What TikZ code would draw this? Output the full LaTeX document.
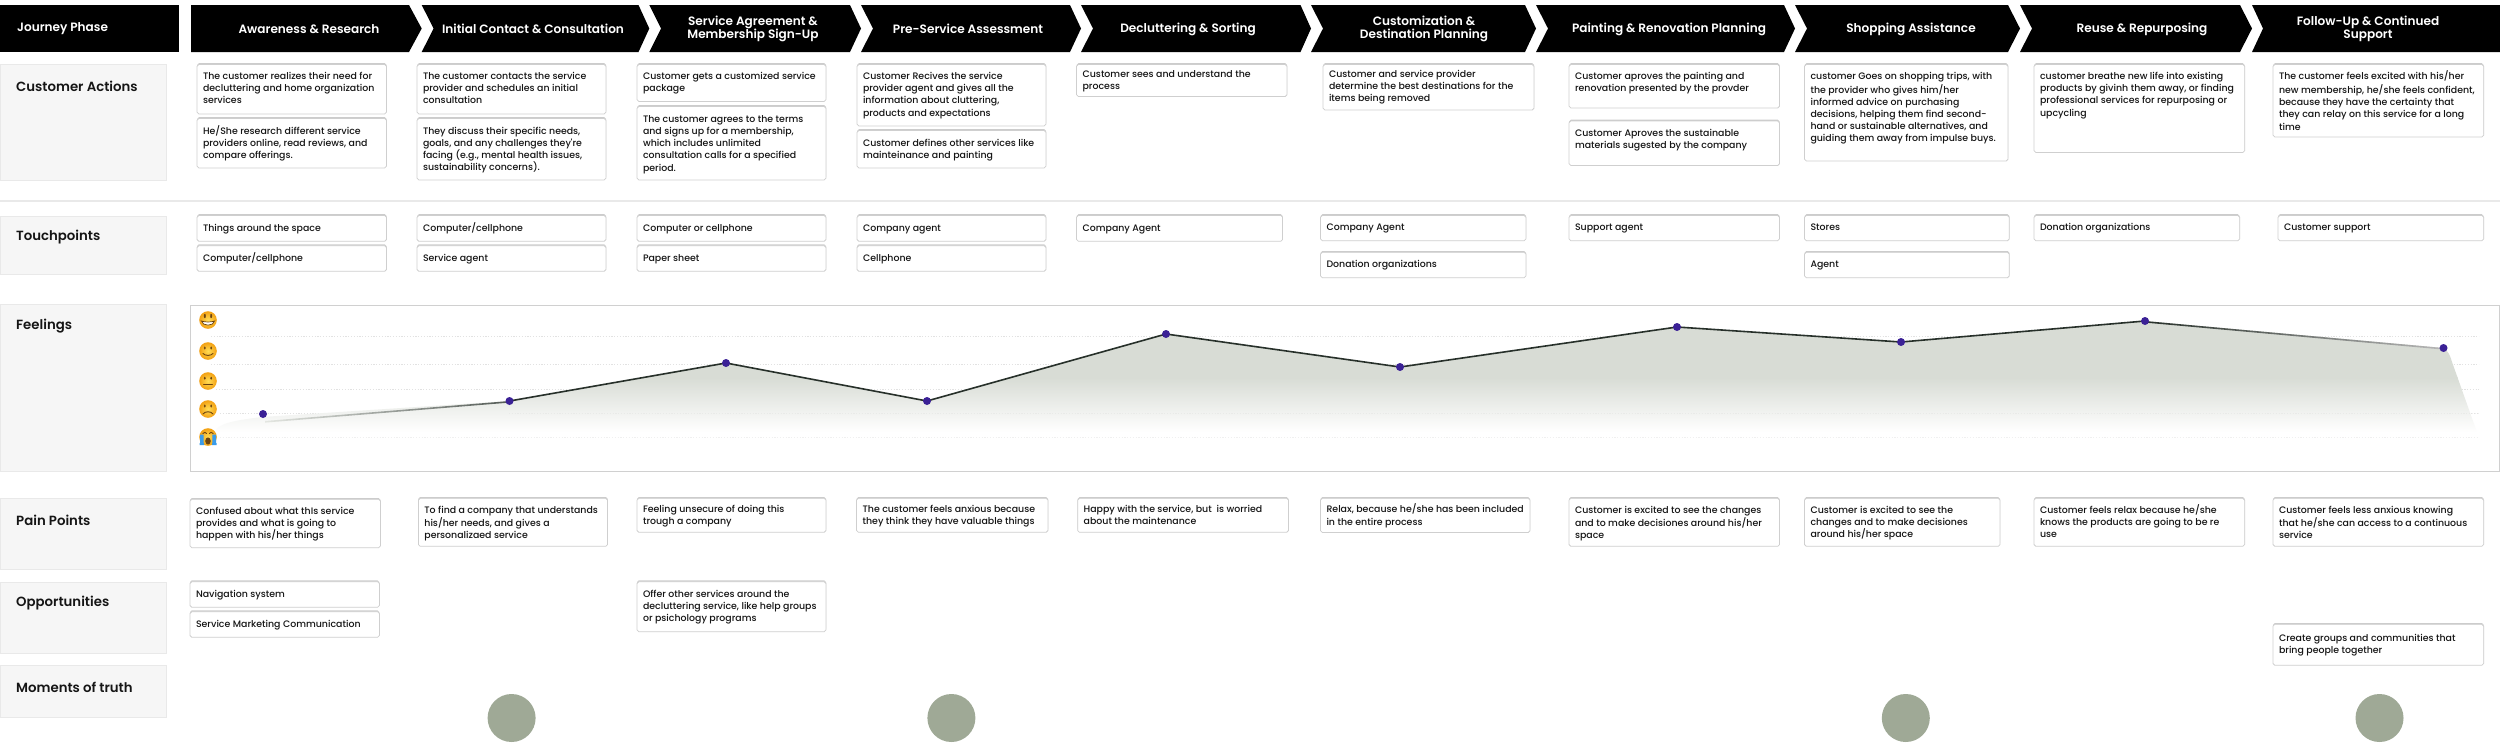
\documentclass[tikz,border=0pt]{standalone}
\usepackage{fontspec}
\setmainfont{Poppins}
\newfontfamily\bodyf{Poppins Medium}
\newfontfamily\headf{Poppins SemiBold}
\usetikzlibrary{shadows,calc}
\definecolor{ink}{HTML}{151515}
\definecolor{cardline}{HTML}{CFCFCF}
\definecolor{chartline}{HTML}{D0D0D0}
\definecolor{sidefill}{HTML}{F6F6F6}
\definecolor{sideline}{HTML}{E9E9E9}
\definecolor{grid}{HTML}{E2E2E2}
\definecolor{dotc}{HTML}{3B2196}
\definecolor{linec}{HTML}{27302A}
\definecolor{area}{HTML}{D8DCD5}
\definecolor{moment}{HTML}{9FA996}
\definecolor{faceA}{HTML}{FFDD55}
\definecolor{faceB}{HTML}{F3A012}
\definecolor{facel}{HTML}{6B4310}
\definecolor{tear}{HTML}{3B9BE8}
\tikzset{
  cardbox/.style={draw=cardline,line width=.75pt,fill=white,rounded corners=1.8pt,inner sep=0pt,outer sep=0pt,anchor=north west,
    general shadow={shadow xshift=0pt,shadow yshift=1.3pt,fill=black,opacity=.2}},
  cardtext/.style={anchor=north west,inner sep=0pt,outer sep=0pt,align=left,text=ink,font=\bodyf\fontsize{9.4}{12.2}\selectfont},
  sidebox/.style={draw=sideline,line width=.9pt,fill=sidefill,inner sep=0pt,outer sep=0pt,anchor=north west},
  sidetext/.style={anchor=west,inner sep=0pt,text=ink,font=\headf\fontsize{13.3}{15}\selectfont},
  phase/.style={fill=black},
  phasetext/.style={text=white,align=center,inner sep=0pt,font=\headf\fontsize{12.1}{13.4}\selectfont},
  griddot/.style={grid,line width=.9pt,dash pattern=on 1.2pt off 1.6pt},
  ptdot/.style={circle,fill=dotc,inner sep=0pt,minimum size=8pt},
  momentdot/.style={circle,fill=moment,inner sep=0pt,minimum size=48pt},
  feel/.style={linec,line width=1.6pt,line join=round},
  facefeat/.style={facel,line width=.9pt,line cap=round},
}
% name x1 y1 x2 y2 first-line-centre text
\newcommand{\cardn}[7]{%
  \node[cardbox,minimum width={(#4-#2)*1pt},minimum height={(#5-#3)*1pt}] (#1) at (#2,#3) {};
  \node[cardtext] (#1t) at ($(#2,#6)+(6,-6)$) {\strut #7};
}
\newcommand{\sidebox}[6]{%
  \node[sidebox,minimum width=166pt,minimum height={(#3-#2)*1pt}] (#1) at (0,#2) {};
  \node[sidetext] (#1t) at (16,#4) {#5};
}
\newcommand{\faceball}[2]{%
  \shade[inner color=faceA,outer color=faceB] (#1,#2) circle (8.8);
}
\begin{document}
\begin{tikzpicture}[x=1pt,y=-1pt]
\useasboundingbox (0,0) rectangle (2500,742);
\fill[white] (0,0) rectangle (2500,742);

% header
\fill[phase] (0,5) rectangle (179,52);
\node[phasetext,anchor=west] (jp) at (17,29) {Journey Phase};
\fill[phase] (191,5) -- (409,5) -- (421.7,28.5) -- (409,52) -- (191,52) -- cycle;
\fill[phase] (421.7,5) -- (638.5,5) -- (649.3,28.5) -- (638.5,52) -- (421.7,52) -- (433.6,28.5) -- cycle;
\fill[phase] (649.3,5) -- (850,5) -- (861,28.5) -- (850,52) -- (649.3,52) -- (661,28.5) -- cycle;
\fill[phase] (861,5) -- (1070,5) -- (1081,28.5) -- (1070,52) -- (861,52) -- (873,28.5) -- cycle;
\fill[phase] (1081,5) -- (1300.5,5) -- (1311,28.5) -- (1300.5,52) -- (1081,52) -- (1093,28.5) -- cycle;
\fill[phase] (1311,5) -- (1525,5) -- (1536,28.5) -- (1525,52) -- (1311,52) -- (1323,28.5) -- cycle;
\fill[phase] (1536,5) -- (1784,5) -- (1795,28.5) -- (1784,52) -- (1536,52) -- (1548,28.5) -- cycle;
\fill[phase] (1795,5) -- (2008,5) -- (2020,28.5) -- (2008,52) -- (1795,52) -- (1807,28.5) -- cycle;
\fill[phase] (2020,5) -- (2240,5) -- (2252,28.5) -- (2240,52) -- (2020,52) -- (2032,28.5) -- cycle;
\fill[phase] (2252,5) -- (2500,5) -- (2500,52) -- (2252,52) -- (2263,28.5) -- cycle;
\node[phasetext] (ph1) at (309,29) {Awareness \& Research};
\node[phasetext] (ph2) at (533,29) {Initial Contact \& Consultation};
\node[phasetext] (ph3) at (753,29) {Service Agreement \&\\Membership Sign-Up};
\node[phasetext] (ph4) at (968,29) {Pre-Service Assessment};
\node[phasetext] (ph5) at (1188,29) {Decluttering \& Sorting};
\node[phasetext] (ph6) at (1424,29) {Customization \&\\Destination Planning};
\node[phasetext] (ph7) at (1669,29) {Painting \& Renovation Planning};
\node[phasetext] (ph8) at (1911,29) {Shopping Assistance};
\node[phasetext] (ph9) at (2142,29) {Reuse \& Repurposing};
\node[phasetext] (ph10) at (2368,29) {Follow-Up \& Continued\\Support};

% side labels
\sidebox{sa}{64}{180}{86}{Customer Actions}{}
\sidebox{sb}{216}{274}{237}{Touchpoints}{}
\sidebox{sc}{304.5}{471}{326}{Feelings}{}
\sidebox{sd}{498}{569}{520}{Pain Points}{}
\sidebox{se}{582}{653}{603}{Opportunities}{}
\sidebox{sf}{665}{717}{687}{Moments of truth}{}

% rule
\fill[sideline] (0,200.2) rectangle (2500,202.4);

% customer actions
\cardn{a1a}{197}{64.5}{386.5}{114}{77}{The customer realizes their need for\\decluttering and home organization\\services}
\cardn{a1b}{197}{118.5}{386.5}{168}{131.5}{He/She research different service\\providers online, read reviews, and\\compare offerings.}
\cardn{a2a}{417}{64.5}{606}{114}{77}{The customer contacts the service\\provider and schedules an initial\\consultation}
\cardn{a2b}{417}{118.5}{606}{180}{131.5}{They discuss their specific needs,\\goals, and any challenges they're\\facing (e.g., mental health issues,\\sustainability concerns).}
\cardn{a3a}{637}{64.5}{826}{101.5}{77}{Customer gets a customized service\\package}
\cardn{a3b}{637}{106.5}{826}{180}{119.7}{The customer agrees to the terms\\and signs up for a membership,\\which includes unlimited\\consultation calls for a specified\\period.}
\cardn{a4a}{857}{64.5}{1046}{126}{77}{Customer Recives the service\\provider agent and gives all the\\information about cluttering,\\products and expectations}
\cardn{a4b}{857}{130.5}{1046}{168}{144}{Customer defines other services like\\mainteinance and painting}
\cardn{a5a}{1076.6}{64.5}{1287}{96.5}{74.5}{Customer sees and understand the\\process}
\cardn{a6a}{1323}{64.5}{1534}{110}{75}{Customer and service provider\\determine the best destinations for the\\items being removed}
\cardn{a7a}{1569}{64.5}{1779.5}{108}{77}{Customer aproves the painting and\\renovation presented by the provder}
\cardn{a7b}{1569}{121}{1779.5}{165.5}{134}{Customer Aproves the sustainable\\materials sugested by the company}
\cardn{a8a}{1804.5}{64.5}{2008}{161}{77}{customer Goes on shopping trips, with\\the provider who gives him/her\\informed advice on purchasing\\decisions, helping them find second-\\hand or sustainable alternatives, and\\guiding them away from impulse buys.}
\cardn{a9a}{2034}{64.5}{2244.6}{152.5}{77}{customer breathe new life into existing\\products by givinh them away, or finding\\professional services for repurposing or\\upcycling}
\cardn{a10a}{2273}{64.5}{2483.6}{137}{77}{The customer feels excited with his/her\\new membership, he/she feels confident,\\because they have the certainty that\\they can relay on this service for a long\\time}

% touchpoints
\cardn{t1a}{197}{215.5}{386.5}{241.3}{228.7}{Things around the space}
\cardn{t1b}{197}{245.7}{386.5}{271.3}{258.7}{Computer/cellphone}
\cardn{t2a}{417}{215.5}{606}{241.3}{228.7}{Computer/cellphone}
\cardn{t2b}{417}{245.7}{606}{271.3}{258.7}{Service agent}
\cardn{t3a}{637}{215.5}{826}{241.3}{228.7}{Computer or cellphone}
\cardn{t3b}{637}{245.7}{826}{271.3}{258.7}{Paper sheet}
\cardn{t4a}{857}{215.5}{1046}{241.3}{228.7}{Company agent}
\cardn{t4b}{857}{245.7}{1046}{271.3}{258.7}{Cellphone}
\cardn{t5a}{1076.6}{215.5}{1282.6}{241.3}{228.7}{Company Agent}
\cardn{t6a}{1320.5}{215.5}{1526}{240.7}{228}{Company Agent}
\cardn{t6b}{1320.5}{252.3}{1526}{277.7}{265}{Donation organizations}
\cardn{t7a}{1569}{215.5}{1779.5}{240.7}{228}{Support agent}
\cardn{t8a}{1804.5}{215.5}{2009.3}{240.7}{228}{Stores}
\cardn{t8b}{1804.5}{252.3}{2009.3}{277.7}{265}{Agent}
\cardn{t9a}{2034}{215.5}{2239.7}{240.7}{228}{Donation organizations}
\cardn{t10a}{2278}{215.5}{2483.6}{240.7}{228}{Customer support}

% feelings chart
\draw[chartline,line width=.9pt] (190,305) rectangle (2499.4,471);
\foreach \yy/\xx in {336.7/211,364/211,389/216,413/220,437/220}
  \draw[griddot] (\xx,\yy) -- (2479,\yy);
\coordinate (f0) at (263,414);
\coordinate (l0) at (265,421);
\coordinate (f1) at (509.5,401);
\coordinate (f2) at (726,363);
\coordinate (f3) at (927,401);
\coordinate (f4) at (1166,334);
\coordinate (f5) at (1400,367);
\coordinate (f6) at (1677,327);
\coordinate (f7) at (1901,342);
\coordinate (f8) at (2145,321);
\coordinate (f9) at (2443.5,348);
\begin{scope}
  \clip (215,432) .. controls (218,424) and (230,421) .. (262,417) -- (f1) -- (f2) -- (f3) -- (f4) -- (f5) -- (f6) -- (f7) -- (f8) -- (f9) .. controls (2448,351) and (2450,355) .. (2452,362) -- (2479,438) -- (215,438) -- cycle;
  \fill[area] (200,310) rectangle (2490,378);
  \shade[top color=area,middle color=area!38,bottom color=white] (200,377.5) rectangle (2490,432);
  \fill[white] (200,431.5) rectangle (2490,440);
\end{scope}
\foreach \yy/\xx in {413/509,437/220}
  \draw[griddot,opacity=.5] (\xx,\yy) -- (2479,\yy);
\shade[left color=area!70,right color=linec!80] (l0) -- (f1) -- ++(0,1.6) -- ($(l0)+(0,1.6)$) -- cycle;
\draw[feel] (f1) -- (f2) -- (f3) -- (f4) -- (f5) -- (f6) -- (f7) -- (f8);
\shade[left color=linec,right color=black!28] (f8) -- (f9) -- ++(0,1.6) -- ($(f8)+(0,1.6)$) -- cycle;
\foreach \n in {0,...,9}
  \node[ptdot] (d\n) at (f\n) {};

% emoji faces
\faceball{208}{320}
\fill[facel] (204.8,316) ellipse (1 and 2.2) (211.2,316) ellipse (1 and 2.2);
\fill[white,draw=facel,line width=.7pt] (201.5,321) .. controls (204,322.3) and (212,322.3) .. (214.5,321) .. controls (214,326.5) and (202,326.5) .. (201.5,321) -- cycle;
\faceball{208}{351}
\fill[facel] (204.8,348) ellipse (1 and 1.6) (211.2,348) ellipse (1 and 1.6);
\draw[facefeat] (203,353.5) .. controls (205,356) and (211,356) .. (213,353.5);
\faceball{208}{381}
\fill[facel] (204.8,378.2) ellipse (1 and 1.6) (211.2,378.2) ellipse (1 and 1.6);
\draw[facefeat] (203.5,384.5) -- (212.5,384.5);
\faceball{208}{409}
\fill[facel] (204.8,406) ellipse (1 and 1.6) (211.2,406) ellipse (1 and 1.6);
\draw[facefeat] (203,414) .. controls (205,411) and (211,411) .. (213,414);
\faceball{208}{437}
\draw[facefeat] (202.8,433.5) .. controls (204,432) and (206,432) .. (206.6,433.5);
\draw[facefeat] (209.4,433.5) .. controls (210,432) and (212,432) .. (213.2,433.5);
\fill[facel] (208,441) ellipse (2.8 and 3.6);
\fill[tear] (200,434.5) rectangle (203.6,443) (212.4,434.5) rectangle (216,443);
\fill[tear] (199.5,443) rectangle (204,445.2) (212,443) rectangle (216.5,445.2);

% pain points
\cardn{p1}{190}{499.3}{380.5}{547.7}{511.7}{Confused about what thIs service\\provides and what is going to\\happen with his/her things}
\cardn{p2}{418.4}{498.3}{607.6}{546.3}{510.7}{To find a company that understands\\his/her needs, and gives a\\personalizaed service}
\cardn{p3}{637}{498.3}{826}{532.3}{509.7}{Feeling unsecure of doing this\\trough a company}
\cardn{p4}{856.6}{498.3}{1048}{532.3}{509.7}{The customer feels anxious because\\they think they have valuable things}
\cardn{p5}{1077.7}{498.3}{1288.5}{532.3}{509.7}{Happy with the service, but\ \ is worried\\about the maintenance}
\cardn{p6}{1320.5}{498.3}{1530}{532.5}{510}{Relax, because he/she has been included\\in the entire process}
\cardn{p7}{1569}{498.3}{1779.5}{546.3}{510.7}{Customer is excited to see the changes\\and to make decisiones around his/her\\space}
\cardn{p8}{1804.5}{498.3}{2000}{546.3}{510.7}{Customer is excited to see the\\changes and to make decisiones\\around his/her space}
\cardn{p9}{2034}{498.3}{2244.6}{546.3}{510.7}{Customer feels relax because he/she\\knows the products are going to be re\\use}
\cardn{p10}{2273}{498.3}{2483.6}{546.3}{510.7}{Customer feels less anxious knowing\\that he/she can access to a continuous\\service}

% opportunities
\cardn{o1a}{190}{581.7}{379.4}{607.3}{594.7}{Navigation system}
\cardn{o1b}{190}{611.7}{379.4}{637.3}{624.7}{Service Marketing Communication}
\cardn{o3a}{637}{581.7}{826}{631.7}{594.7}{Offer other services around the\\decluttering service, like help groups\\or psichology programs}
\cardn{o10a}{2273}{624.3}{2483.6}{665.3}{639}{Create groups and communities that\\bring people together}

% moments of truth
\node[momentdot] (m1) at (511.6,718) {};
\node[momentdot] (m2) at (951.4,718) {};
\node[momentdot] (m3) at (1905.8,718) {};
\node[momentdot] (m4) at (2379.5,718) {};
\end{tikzpicture}
\end{document}
